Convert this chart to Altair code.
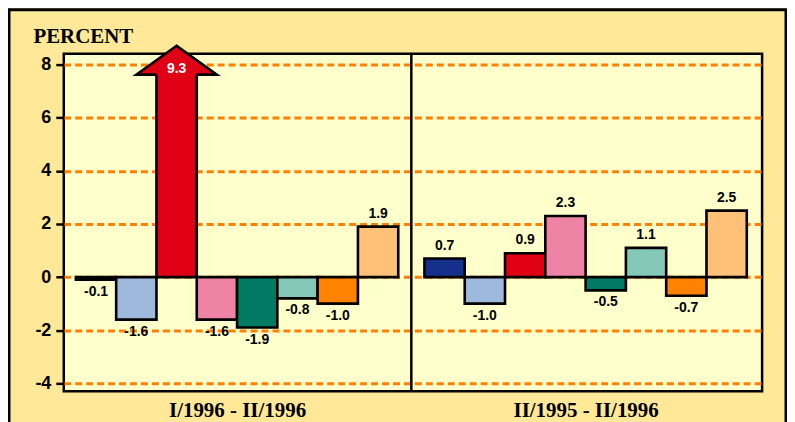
import altair as alt
import pandas as pd

# ---------------- data ----------------
periods = ["I/1996 - II/1996", "II/1995 - II/1996"]
values_p1 = [-0.1, -1.6, 9.3, -1.6, -1.9, -0.8, -1.0, 1.9]
values_p2 = [0.7, -1.0, 0.9, 2.3, -0.5, 1.1, -0.7, 2.5]
bar_colors = ["#14308C", "#9DB9DB", "#E00016", "#EE83A5", "#007A62", "#84C8B8", "#FF8200", "#FFC077"]
y_ticks = [-4, -2, 0, 2, 4, 6, 8]

# ---------------- layout constants (styling) ----------------
W, H = 701, 339
panel_offsets = [0.30, 8.95]          # start of each group, in bar widths
x_max = 17.33
y_min, y_max = -4.3, 8.41
bar_px = W / x_max
unit_px = H / (y_max - y_min)
arrow_base = 7.62                     # where the arrow head starts (axis units)
head_h = 0.358                        # half height of arrow head (symbol units)
divider = panel_offsets[0] + 8 + (panel_offsets[1] - panel_offsets[0] - 8) / 2

rows = []
for p, vals in enumerate([values_p1, values_p2]):
    for i, v in enumerate(vals):
        x0 = panel_offsets[p] + i
        over = v > y_max
        rows.append(dict(
            x0=x0, x1=x0 + 1, xc=x0 + 0.5, v=v,
            top=(arrow_base + 0.15) if over else v,
            color=bar_colors[i], label=f"{v:.1f}",
            kind="over" if over else ("pos" if v >= 0 else "neg"),
            head_y=arrow_base + head_h * bar_px / unit_px,
            label_y=arrow_base + 0.22,
        ))
df = pd.DataFrame(rows)

xs = alt.Scale(domain=[0, x_max], nice=False, zero=False)
ys = alt.Scale(domain=[y_min, y_max], nice=False, zero=False)

label_expr = f"datum.value < {divider} ? '{periods[0]}' : '{periods[1]}'"
group_centers = [panel_offsets[0] + 4, panel_offsets[1] + 4]

base = alt.Chart(df)

bars = base.mark_rect(stroke="black", strokeWidth=2.6).encode(
    x=alt.X("x0:Q", scale=xs, axis=alt.Axis(
        values=group_centers, labelExpr=label_expr, title=None,
        ticks=False, domain=False, grid=False,
        labelFont="Liberation Serif", labelFontWeight="bold", labelFontSize=21,
        labelColor="black", labelBaseline="alphabetic", labelPadding=25,
    )),
    x2="x1:Q",
    y=alt.Y("top:Q", scale=ys, axis=alt.Axis(
        values=y_ticks, labelExpr="'' + datum.value",
        title="PERCENT", titleAngle=0, titleX=-31, titleY=-11,
        titleAlign="left", titleBaseline="alphabetic",
        titleFont="Liberation Serif", titleFontWeight="bold", titleFontSize=21,
        titleColor="black",
        labelFont="Liberation Sans", labelFontWeight="bold", labelFontSize=18,
        labelColor="black", labelPadding=5,
        tickColor="black", tickWidth=2.5, tickSize=8, domain=False,
        grid=True, gridColor="#FF8000", gridDash=[7, 4], gridWidth=3, gridOpacity=1,
    )),
    y2=alt.datum(0),
    color=alt.Color("color:N", scale=None),
)

head_path = f"M-0.5,{head_h}L-1,{head_h}L0,{-head_h}L1,{head_h}L0.5,{head_h}"
head = base.transform_filter("datum.kind == 'over'").mark_point(
    shape=head_path, size=(2 * bar_px) ** 2, filled=True, opacity=1,
    stroke="black", strokeWidth=2.6, strokeJoin="miter",
).encode(
    x=alt.X("xc:Q", scale=xs),
    y=alt.Y("head_y:Q", scale=ys),
    fill=alt.Color("color:N", scale=None),
)

txt_style = dict(font="Liberation Sans", fontWeight="bold", fontSize=14, color="black")
pos_txt = base.transform_filter("datum.kind == 'pos'").mark_text(
    baseline="bottom", dy=-6, **txt_style
).encode(x=alt.X("xc:Q", scale=xs), y=alt.Y("top:Q", scale=ys), text="label:N")
neg_txt = base.transform_filter("datum.kind == 'neg'").mark_text(
    baseline="top", dy=5, **txt_style
).encode(x=alt.X("xc:Q", scale=xs), y=alt.Y("top:Q", scale=ys), text="label:N")
over_txt = base.transform_filter("datum.kind == 'over'").mark_text(
    baseline="middle", font="Liberation Sans", fontWeight="bold", fontSize=14, color="white"
).encode(x=alt.X("xc:Q", scale=xs), y=alt.Y("label_y:Q", scale=ys), text="label:N")

divider_rule = alt.Chart(pd.DataFrame({"d": [divider]})).mark_rule(
    color="black", strokeWidth=2.5
).encode(x=alt.X("d:Q", scale=xs), y=alt.value(0), y2=alt.value(H))

frame = alt.Chart(pd.DataFrame({"d": [0]})).mark_rect(
    fillOpacity=0, stroke="black", strokeWidth=3
).encode(x=alt.value(-55), x2=alt.value(725), y=alt.value(-44), y2=alt.value(H + 80))

chart = alt.layer(bars, head, pos_txt, neg_txt, over_txt, divider_rule, frame).properties(
    width=W, height=H,
    autosize=alt.AutoSizeParams(type="none"),
    padding={"left": 56, "top": 45, "right": 25, "bottom": 40},
    background="#FFE897",
).configure_view(
    fill="#FFFFCC", stroke="black", strokeWidth=2.5,
)

chart.save("out.html", embed_options={"renderer": "svg", "actions": False})
